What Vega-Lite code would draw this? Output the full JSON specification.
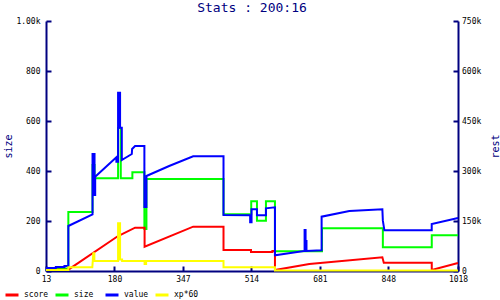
{
  "$schema": "https://vega.github.io/schema/vega-lite/v6.json",
  "width": 412,
  "height": 250,
  "autosize": {"type": "none"},
  "padding": {"left": 46, "top": 21, "right": 42, "bottom": 29},
  "background": "white",
  "title": {"text": "Stats : 200:16", "font": "DejaVu Sans Mono", "fontSize": 13, "fontWeight": "normal", "color": "#000080", "anchor": "middle", "frame": "group", "baseline": "alphabetic", "offset": 8, "dy": 16},
  "config": {
    "view": {"stroke": null},
    "axis": {"grid": false, "domainColor": "#000080", "tickColor": "#000080", "domainWidth": 2, "tickWidth": 2, "tickSize": -5, "labelFont": "DejaVu Sans Mono", "labelFontSize": 8, "labelColor": "black", "titleFont": "DejaVu Sans Mono", "titleFontSize": 10, "titleColor": "#000080", "titleFontWeight": "normal"}
  },
  "data": {"values": [
    {"s":"score","x":13,"v":4000,"i":1},
    {"s":"score","x":67.5,"v":4000,"i":2},
    {"s":"score","x":188.8,"v":105000,"i":3},
    {"s":"score","x":230.3,"v":130000,"i":4},
    {"s":"score","x":253.5,"v":130000,"i":5},
    {"s":"score","x":253.5,"v":73000,"i":6},
    {"s":"score","x":372,"v":133000,"i":7},
    {"s":"score","x":446,"v":133000,"i":8},
    {"s":"score","x":446,"v":63000,"i":9},
    {"s":"score","x":513,"v":63000,"i":10},
    {"s":"score","x":513,"v":57000,"i":11},
    {"s":"score","x":565.2,"v":57000,"i":12},
    {"s":"score","x":565.2,"v":60000,"i":13},
    {"s":"score","x":571.5,"v":60000,"i":14},
    {"s":"score","x":571.5,"v":3000,"i":15},
    {"s":"score","x":655.3,"v":21000,"i":16},
    {"s":"score","x":833.5,"v":41000,"i":17},
    {"s":"score","x":837,"v":25000,"i":18},
    {"s":"score","x":954,"v":25000,"i":19},
    {"s":"score","x":954,"v":3000,"i":20},
    {"s":"score","x":1018,"v":24000,"i":21},

    {"s":"size","x":13,"v":10,"i":101},
    {"s":"size","x":67.5,"v":10,"i":102},
    {"s":"size","x":67.5,"v":236,"i":103},
    {"s":"size","x":126.5,"v":236,"i":104},
    {"s":"size","x":126.5,"v":424,"i":105},
    {"s":"size","x":131.4,"v":424,"i":106},
    {"s":"size","x":131.4,"v":371,"i":107},
    {"s":"size","x":188.8,"v":371,"i":108},
    {"s":"size","x":188.8,"v":572,"i":109},
    {"s":"size","x":195.4,"v":572,"i":110},
    {"s":"size","x":195.4,"v":371,"i":111},
    {"s":"size","x":223.7,"v":371,"i":112},
    {"s":"size","x":223.7,"v":395,"i":113},
    {"s":"size","x":253,"v":395,"i":114},
    {"s":"size","x":253,"v":168,"i":115},
    {"s":"size","x":258,"v":168,"i":116},
    {"s":"size","x":258,"v":368,"i":117},
    {"s":"size","x":446,"v":368,"i":118},
    {"s":"size","x":446,"v":227,"i":119},
    {"s":"size","x":513.6,"v":227,"i":120},
    {"s":"size","x":513.6,"v":279,"i":121},
    {"s":"size","x":527.6,"v":279,"i":122},
    {"s":"size","x":527.6,"v":201,"i":123},
    {"s":"size","x":549.5,"v":201,"i":124},
    {"s":"size","x":549.5,"v":279,"i":125},
    {"s":"size","x":571.5,"v":279,"i":126},
    {"s":"size","x":571.5,"v":79,"i":127},
    {"s":"size","x":686.3,"v":79,"i":128},
    {"s":"size","x":686.3,"v":171,"i":129},
    {"s":"size","x":834.7,"v":171,"i":130},
    {"s":"size","x":834.7,"v":95,"i":131},
    {"s":"size","x":954,"v":95,"i":132},
    {"s":"size","x":954,"v":143,"i":133},
    {"s":"size","x":1018,"v":143,"i":134},

    {"s":"value","x":13,"v":9000,"i":201},
    {"s":"value","x":37,"v":9000,"i":202},
    {"s":"value","x":37,"v":12000,"i":203},
    {"s":"value","x":58,"v":12000,"i":204},
    {"s":"value","x":58,"v":15000,"i":205},
    {"s":"value","x":67.5,"v":15000,"i":206},
    {"s":"value","x":67.5,"v":135000,"i":207},
    {"s":"value","x":126.5,"v":170000,"i":208},
    {"s":"value","x":126.5,"v":351000,"i":209},
    {"s":"value","x":131.4,"v":351000,"i":210},
    {"s":"value","x":131.4,"v":228000,"i":211},
    {"s":"value","x":133,"v":228000,"i":212},
    {"s":"value","x":133,"v":283000,"i":213},
    {"s":"value","x":184.7,"v":341000,"i":214},
    {"s":"value","x":184.7,"v":328000,"i":215},
    {"s":"value","x":188.8,"v":328000,"i":216},
    {"s":"value","x":188.8,"v":535000,"i":217},
    {"s":"value","x":193.7,"v":535000,"i":218},
    {"s":"value","x":193.7,"v":430000,"i":219},
    {"s":"value","x":197.9,"v":430000,"i":220},
    {"s":"value","x":197.9,"v":333000,"i":221},
    {"s":"value","x":222.3,"v":351000,"i":222},
    {"s":"value","x":223,"v":366000,"i":223},
    {"s":"value","x":230.3,"v":375000,"i":224},
    {"s":"value","x":253,"v":375000,"i":225},
    {"s":"value","x":253,"v":192000,"i":226},
    {"s":"value","x":258,"v":192000,"i":227},
    {"s":"value","x":258,"v":285000,"i":228},
    {"s":"value","x":313.4,"v":315000,"i":229},
    {"s":"value","x":372,"v":344000,"i":230},
    {"s":"value","x":446,"v":344000,"i":231},
    {"s":"value","x":446,"v":168000,"i":232},
    {"s":"value","x":511,"v":167000,"i":233},
    {"s":"value","x":511,"v":146000,"i":234},
    {"s":"value","x":514.4,"v":146000,"i":235},
    {"s":"value","x":514.4,"v":185000,"i":236},
    {"s":"value","x":527.6,"v":185000,"i":237},
    {"s":"value","x":527.6,"v":167000,"i":238},
    {"s":"value","x":549.5,"v":167000,"i":239},
    {"s":"value","x":549.5,"v":188000,"i":240},
    {"s":"value","x":571.5,"v":191000,"i":241},
    {"s":"value","x":571.5,"v":47000,"i":242},
    {"s":"value","x":643.8,"v":60000,"i":243},
    {"s":"value","x":643.8,"v":123000,"i":244},
    {"s":"value","x":646.2,"v":123000,"i":245},
    {"s":"value","x":646.2,"v":90000,"i":246},
    {"s":"value","x":648.4,"v":90000,"i":247},
    {"s":"value","x":648.4,"v":60000,"i":248},
    {"s":"value","x":685.3,"v":62000,"i":249},
    {"s":"value","x":685.3,"v":163000,"i":250},
    {"s":"value","x":753,"v":180000,"i":251},
    {"s":"value","x":833.5,"v":185000,"i":252},
    {"s":"value","x":834.7,"v":151000,"i":253},
    {"s":"value","x":838.4,"v":122000,"i":254},
    {"s":"value","x":953.9,"v":122000,"i":255},
    {"s":"value","x":953.9,"v":141000,"i":256},
    {"s":"value","x":1018,"v":159000,"i":257},

    {"s":"xp*60","x":13,"v":3000,"i":301},
    {"s":"xp*60","x":67.5,"v":3000,"i":302},
    {"s":"xp*60","x":67.5,"v":11000,"i":303},
    {"s":"xp*60","x":126,"v":11000,"i":304},
    {"s":"xp*60","x":128.4,"v":53000,"i":305},
    {"s":"xp*60","x":131,"v":53000,"i":306},
    {"s":"xp*60","x":131,"v":30000,"i":307},
    {"s":"xp*60","x":188.8,"v":30000,"i":308},
    {"s":"xp*60","x":188.8,"v":143000,"i":309},
    {"s":"xp*60","x":193.7,"v":143000,"i":310},
    {"s":"xp*60","x":193.7,"v":34500,"i":311},
    {"s":"xp*60","x":198.6,"v":34500,"i":312},
    {"s":"xp*60","x":198.6,"v":30000,"i":313},
    {"s":"xp*60","x":253.5,"v":30000,"i":314},
    {"s":"xp*60","x":253.5,"v":21000,"i":315},
    {"s":"xp*60","x":257.2,"v":21000,"i":316},
    {"s":"xp*60","x":257.2,"v":30000,"i":317},
    {"s":"xp*60","x":446,"v":30000,"i":318},
    {"s":"xp*60","x":446,"v":11000,"i":319},
    {"s":"xp*60","x":571.5,"v":11000,"i":320},
    {"s":"xp*60","x":571.5,"v":1500,"i":321},
    {"s":"xp*60","x":1018,"v":1500,"i":322}
  ]},
  "encoding": {
    "x": {"field": "x", "type": "quantitative", "scale": {"domain": [13, 1018], "nice": false, "zero": false},
          "axis": {"values": [13, 180, 347, 514, 681, 848, 1018], "format": "d", "title": null, "labelPadding": 9, "labelFlush": false}},
    "order": {"field": "i", "type": "quantitative"},
    "color": {"field": "s", "type": "nominal",
              "scale": {"domain": ["score", "size", "value", "xp*60"], "range": ["#ff0000", "#00ff00", "#0000ff", "#ffff00"]},
              "legend": {"orient": "none", "legendX": -42, "legendY": 266, "direction": "horizontal", "title": null,
                         "symbolType": "stroke", "symbolStrokeWidth": 3, "symbolSize": 169, "labelFont": "DejaVu Sans Mono",
                         "labelFontSize": 8, "labelColor": "black", "labelOffset": 4, "columnPadding": 0, "gridAlign": "all", "padding": 0}}
  },
  "layer": [
    {
      "transform": [{"filter": "datum.s == 'size'"}],
      "mark": {"type": "line", "strokeWidth": 2},
      "encoding": {
        "y": {"field": "v", "type": "quantitative", "scale": {"domain": [0, 1000], "nice": false},
              "axis": {"orient": "left", "values": [0, 200, 400, 600, 800, 1000], "format": "d",
                       "labelExpr": "datum.value >= 1000 ? '1.00k' : datum.label", "labelPadding": 11,
                       "title": "size", "titleAngle": 270, "titleX": -38, "titleY": 125, "titleAlign": "center", "titleBaseline": "middle"}}
      }
    },
    {
      "transform": [{"filter": "datum.s != 'size'"}],
      "mark": {"type": "line", "strokeWidth": 2},
      "encoding": {
        "y": {"field": "v", "type": "quantitative", "scale": {"domain": [0, 750000], "nice": false},
              "axis": {"orient": "right", "values": [0, 150000, 300000, 450000, 600000, 750000],
                       "labelExpr": "datum.value == 0 ? '0' : format(datum.value / 1000, 'd') + 'k'", "labelPadding": 8.5,
                       "title": "rest", "titleAngle": 270, "titleX": 37, "titleY": 125, "titleAlign": "center", "titleBaseline": "middle"}}
      }
    }
  ],
  "resolve": {"scale": {"y": "independent"}}
}
